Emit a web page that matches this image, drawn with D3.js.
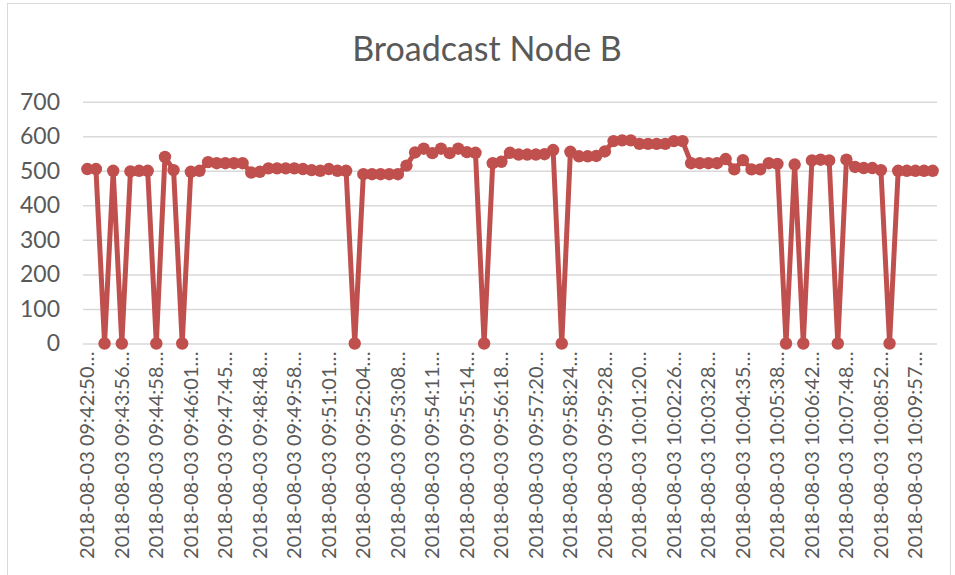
<!DOCTYPE html>
<html>
<head>
<meta charset="utf-8">
<script src="https://cdn.jsdelivr.net/npm/d3@7"></script>
<style>
  body { margin: 0; background: #fff; }
  svg { display: block; }
</style>
</head>
<body>
<svg id="chart"></svg>
<script>
// one sample every ~17 s, only every 4th category gets a label
let values = [505, 505, 0, 500, 0, 498, 500, 500, 0, 540,
              502, 0, 497, 500, 525, 522, 522, 522, 522, 495,
              497, 507, 507, 507, 507, 505, 502, 500, 505, 500,
              500, 0, 490, 490, 490, 490, 490, 515, 553, 564,
              551, 564, 551, 564, 554, 552, 0, 522, 526, 552,
              547, 547, 547, 548, 560, 0, 555, 542, 542, 543,
              556, 586, 588, 588, 578, 578, 578, 578, 586, 586,
              522, 522, 522, 522, 534, 504, 531, 504, 504, 522,
              520, 0, 518, 0, 530, 532, 530, 0, 532, 511,
              508, 508, 502, 0, 500, 500, 500, 500, 500];

let tickLabels = ["2018-08-03 09:42:50…", "2018-08-03 09:43:56…", "2018-08-03 09:44:58…",
                  "2018-08-03 09:46:01…", "2018-08-03 09:47:45…", "2018-08-03 09:48:48…",
                  "2018-08-03 09:49:58…", "2018-08-03 09:51:01…", "2018-08-03 09:52:04…",
                  "2018-08-03 09:53:08…", "2018-08-03 09:54:11…", "2018-08-03 09:55:14…",
                  "2018-08-03 09:56:18…", "2018-08-03 09:57:20…", "2018-08-03 09:58:24…",
                  "2018-08-03 09:59:28…", "2018-08-03 10:01:20…", "2018-08-03 10:02:26…",
                  "2018-08-03 10:03:28…", "2018-08-03 10:04:35…", "2018-08-03 10:05:38…",
                  "2018-08-03 10:06:42…", "2018-08-03 10:07:48…", "2018-08-03 10:08:52…",
                  "2018-08-03 10:09:57…"];

let yTicks = [0, 100, 200, 300, 400, 500, 600, 700];
let labelStep = 4;

let width = 955;
let height = 575;
let color = "#c0504d";
let textColor = "#595959";
let font = "Lato, 'Open Sans', sans-serif";

let svg = d3.select("#chart")
    .attr("width", width)
    .attr("height", height);

//chart frame
svg.append("rect")
    .attr("x", 7.5)
    .attr("y", 3.5)
    .attr("width", 943)
    .attr("height", 620)
    .attr("fill", "#fff")
    .attr("stroke", "#d9d9d9");

//title
svg.append("text")
    .attr("x", 487)
    .attr("y", 61)
    .attr("text-anchor", "middle")
    .attr("font-family", font)
    .attr("font-size", 34)
    .attr("fill", textColor)
    .text("Broadcast Node B");

let xScale = d3.scaleBand()
    .domain(d3.range(values.length))
    .range([83, 937])
    .padding(0);

let yScale = d3.scaleLinear()
    .domain([0, 700])
    .range([343.5, 101.7]);

let cx = i => xScale(i) + xScale.bandwidth() / 2;

//gridlines + y labels
let yAxis = d3.axisLeft(yScale)
    .tickValues(yTicks)
    .tickSize(-(937 - 83))
    .tickPadding(23);

let gy = svg.append("g")
    .attr("transform", "translate(83,0)")
    .call(yAxis);
gy.select(".domain").remove();
gy.selectAll(".tick line")
    .attr("stroke", "#d9d9d9")
    .attr("stroke-width", 1.5);
gy.selectAll(".tick text")
    .attr("font-family", font)
    .attr("font-size", 23)
    .attr("fill", textColor);

//x labels, every 4th category
let xAxis = d3.axisBottom(xScale)
    .tickValues(d3.range(0, values.length, labelStep))
    .tickFormat(i => tickLabels[i / labelStep])
    .tickSize(0);

let gx = svg.append("g")
    .attr("transform", "translate(0,343.5)")
    .call(xAxis);
gx.select(".domain").remove();
gx.selectAll(".tick text")
    .attr("font-family", font)
    .attr("font-size", 20)
    .attr("fill", textColor)
    .attr("text-anchor", "end")
    .attr("transform", "translate(0,8) rotate(-90)")
    .attr("x", 0)
    .attr("y", 0)
    .attr("dy", "0.35em");

//line
let line = d3.line()
    .x((d, i) => cx(i))
    .y(d => yScale(d));

svg.append("path")
    .datum(values)
    .attr("fill", "none")
    .attr("stroke", color)
    .attr("stroke-width", 5)
    .attr("stroke-linejoin", "round")
    .attr("d", line);

//markers
svg.append("g")
    .selectAll("circle")
    .data(values)
    .enter().append("circle")
    .attr("cx", (d, i) => cx(i))
    .attr("cy", d => yScale(d))
    .attr("r", 6.2)
    .attr("fill", color);
</script>
</body>
</html>
